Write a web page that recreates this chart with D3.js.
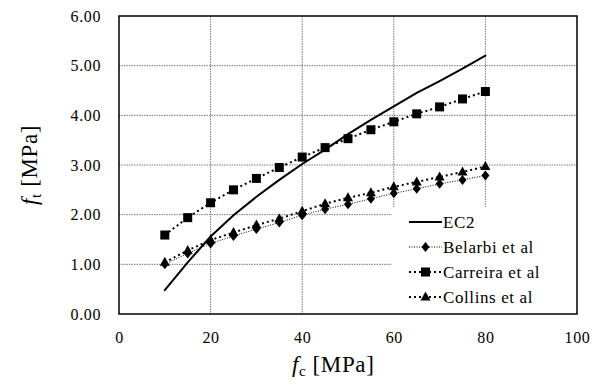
<!DOCTYPE html>
<html>
<head>
<meta charset="utf-8">
<script src="https://cdn.jsdelivr.net/npm/d3@7"></script>
<style>
  body { margin: 0; background: #fff; }
  text { font-family: "Liberation Serif", "DejaVu Serif", serif; fill: #000; letter-spacing: 0.6px; }
</style>
</head>
<body>
<div id="chart"></div>
<script>
const fc = [10, 15, 20, 25, 30, 35, 40, 45, 50, 55, 60, 65, 70, 75, 80];
const ec2 = [0.48, 1.04, 1.56, 1.99, 2.36, 2.70, 3.02, 3.31, 3.62, 3.91, 4.18, 4.45, 4.69, 4.94, 5.20];
const belarbi = [1.00, 1.22, 1.42, 1.57, 1.71, 1.84, 1.99, 2.11, 2.21, 2.32, 2.43, 2.52, 2.62, 2.70, 2.79];
const carreira = [1.59, 1.94, 2.24, 2.50, 2.73, 2.95, 3.16, 3.35, 3.53, 3.71, 3.87, 4.03, 4.17, 4.33, 4.48];
const collins = [1.04, 1.28, 1.49, 1.64, 1.79, 1.92, 2.07, 2.22, 2.34, 2.44, 2.56, 2.66, 2.76, 2.86, 2.97];
const xTicks = [0, 20, 40, 60, 80, 100];
const yTicks = [0, 1, 2, 3, 4, 5, 6];

const margin = { top: 16, right: 17, bottom: 71, left: 119 },
	width = 594 - margin.left - margin.right,
	height = 385 - margin.top - margin.bottom;

const svg = d3.select('#chart')
	.append('svg')
	.attr('width', 594)
	.attr('height', 385)
	.append('g')
	.attr('transform', 'translate(' + margin.left + ',' + margin.top + ')');

const x = d3.scaleLinear().domain([0, 100]).range([0, width]);
const y = d3.scaleLinear().domain([0, 6]).range([height, 0]);

// grid
svg.append('g')
	.selectAll('line')
	.data(xTicks.slice(1, -1))
	.join('line')
	.attr('x1', d => x(d)).attr('x2', d => x(d))
	.attr('y1', 0).attr('y2', height)
	.attr('stroke', '#7a7a7a').attr('stroke-width', 1).attr('stroke-dasharray', '1.5,1');
svg.append('g')
	.selectAll('line')
	.data(yTicks.slice(1, -1))
	.join('line')
	.attr('x1', 0).attr('x2', width)
	.attr('y1', d => y(d)).attr('y2', d => y(d))
	.attr('stroke', '#7a7a7a').attr('stroke-width', 1).attr('stroke-dasharray', '1.5,1');

// axes
const xAxis = svg.append('g')
	.attr('transform', 'translate(0,' + height + ')')
	.call(d3.axisBottom(x).tickValues(xTicks).tickSize(0).tickPadding(18));
const yAxis = svg.append('g')
	.call(d3.axisLeft(y).tickValues(yTicks).tickSize(0).tickPadding(18).tickFormat(d3.format('.2f')));
[xAxis, yAxis].forEach(a => {
	a.select('.domain').remove();
	a.attr('font-family', null);
	a.selectAll('text').style('font-size', '16px');
});

const series = [
	{ name: 'EC2', values: ec2, dash: null, w: 2, marker: null },
	{ name: 'Belarbi et al', values: belarbi, dash: '1,1.5', w: 1, marker: 'diamond' },
	{ name: 'Carreira et al', values: carreira, dash: '2,3', w: 2, marker: 'square' },
	{ name: 'Collins et al', values: collins, dash: '2,3', w: 2, marker: 'triangle' }
];

function drawMarker(g, type, cx, cy) {
	if (type === 'diamond') {
		g.append('path').attr('d', `M${cx},${cy - 5}L${cx + 4},${cy}L${cx},${cy + 5}L${cx - 4},${cy}Z`);
	} else if (type === 'square') {
		g.append('rect').attr('x', cx - 4.5).attr('y', cy - 4.5).attr('width', 9).attr('height', 9);
	} else if (type === 'triangle') {
		g.append('path').attr('d', `M${cx},${cy - 5.5}L${cx + 5},${cy + 3.5}L${cx - 5},${cy + 3.5}Z`);
	}
}

const line = d3.line().x((d, i) => x(fc[i])).y(d => y(d));

series.forEach(s => {
	svg.append('path')
		.datum(s.values)
		.attr('fill', 'none')
		.attr('stroke', '#000')
		.attr('stroke-width', s.w)
		.attr('stroke-dasharray', s.dash)
		.attr('stroke-linecap', s.dash ? 'butt' : 'round')
		.attr('d', line);
	if (s.marker) {
		const mg = svg.append('g').attr('fill', '#000');
		s.values.forEach((v, i) => drawMarker(mg, s.marker, x(fc[i]), y(v)));
	}
});

// legend (white box in the lower right corner)
const lgLeft = 273, lgTop = 191;
const lg = svg.append('g').attr('transform', 'translate(' + lgLeft + ',' + lgTop + ')');
lg.append('rect').attr('width', width - lgLeft).attr('height', height - lgTop).attr('fill', '#fff');
series.forEach((s, i) => {
	const ly = 15 + i * 25;
	lg.append('line')
		.attr('x1', 17).attr('x2', 50).attr('y1', ly).attr('y2', ly)
		.attr('stroke', '#000').attr('stroke-width', s.w).attr('stroke-dasharray', s.dash);
	if (s.marker) {
		const mg = lg.append('g').attr('fill', '#000');
		drawMarker(mg, s.marker, 33.5, ly);
	}
	lg.append('text')
		.attr('x', 51).attr('y', ly).attr('dy', '0.34em')
		.style('font-size', '17px')
		.text(s.name);
});

// frame
svg.append('rect')
	.attr('width', width).attr('height', height)
	.attr('fill', 'none').attr('stroke', '#000').attr('stroke-width', 1.5);

// axis titles
const xt = svg.append('text')
	.attr('x', 173).attr('y', height + 58)
	.style('font-size', '23px');
xt.append('tspan').style('font-style', 'italic').text('f');
xt.append('tspan').attr('dy', 4).style('font-size', '15px').text('c');
xt.append('tspan').attr('dy', -4).text(' [MPa]');

const yt = svg.append('text')
	.attr('transform', 'translate(' + (-82) + ',' + (height / 2) + ') rotate(-90)')
	.attr('text-anchor', 'middle')
	.style('font-size', '23px');
yt.append('tspan').style('font-style', 'italic').text('f');
yt.append('tspan').attr('dy', 4).style('font-size', '15px').text('t');
yt.append('tspan').attr('dy', -4).text(' [MPa]');
</script>
</body>
</html>
